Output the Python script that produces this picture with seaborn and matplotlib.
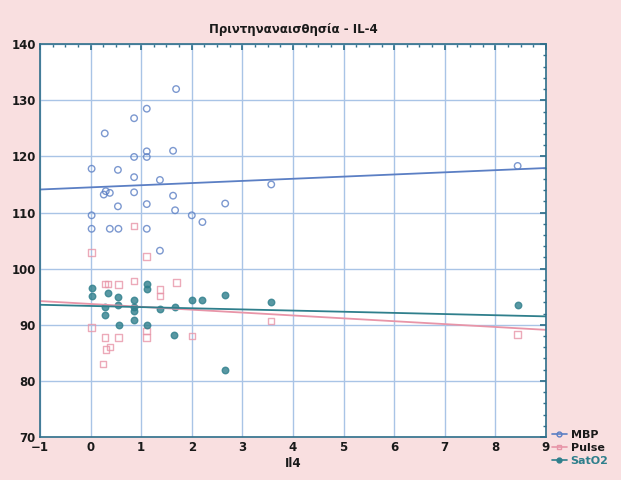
import numpy as np
import pandas as pd
import matplotlib
matplotlib.use("Agg")
import matplotlib.pyplot as plt
import seaborn as sns
from matplotlib.lines import Line2D
from matplotlib.ticker import MultipleLocator

sns.set_theme(style="white")
plt.rcParams['font.family'] = ['DejaVu Sans']

title = "Πριντηναναισθησία - IL-4"
x_label = "Il4"
series_names = ["MBP", "Pulse", "SatO2"]

mbp_x = [1.69, 1.11, 0.86, 0.28, 1.63, 1.11, 1.11, 0.86, 0.02, 0.54, 0.86, 1.37, 0.30, 0.38, 0.26,
         0.86, 1.63, 1.11, 0.54, 2.66, 2.00, 2.21, 1.67, 0.02, 0.02, 0.38, 0.55, 1.11, 1.37, 3.57, 8.44]
mbp_y = [132.0, 128.5, 126.8, 124.1, 121.0, 120.9, 119.9, 119.9, 117.8, 117.6, 116.3, 115.8, 113.8, 113.5, 113.2,
         113.6, 113.0, 111.5, 111.1, 111.6, 109.5, 108.3, 110.4, 109.5, 107.1, 107.1, 107.1, 107.1, 103.2, 115.0, 118.3]

pulse_x = [0.02, 1.11, 0.86, 0.86, 0.28, 0.34, 0.28, 0.30, 0.38, 0.25, 0.55, 1.11, 1.11, 1.37, 1.37,
           2.00, 3.57, 8.44, 0.02, 0.55, 1.70]
pulse_y = [102.9, 102.2, 107.6, 97.8, 97.3, 97.3, 87.7, 85.6, 86.0, 83.0, 87.7, 88.9, 87.7, 96.3, 95.1,
           88.0, 90.7, 88.3, 89.5, 97.2, 97.5]

sat_x = [0.02, 0.02, 0.34, 0.55, 0.28, 0.28, 0.55, 0.56, 0.86, 0.86, 0.86, 0.86, 1.11, 1.11, 1.37,
         1.67, 2.00, 2.21, 2.66, 3.57, 1.11, 1.65, 2.66, 8.44]
sat_y = [96.6, 95.2, 95.6, 95.0, 93.2, 91.8, 93.5, 90.0, 94.4, 93.2, 92.4, 90.8, 97.2, 96.3, 92.8,
         93.2, 94.4, 94.5, 95.3, 94.0, 90.0, 88.2, 82.0, 93.5]

x_ticks = list(range(-1, 10))
y_ticks = list(range(70, 141, 10))

colors = {"MBP": "#5b7fc4", "Pulse": "#e895a8", "SatO2": "#2f7f8c"}
markers = {"MBP": "o", "Pulse": "s", "SatO2": "o"}
filled = {"MBP": False, "Pulse": False, "SatO2": True}

df = pd.concat([
    pd.DataFrame({"x": mbp_x, "y": mbp_y, "s": "MBP"}),
    pd.DataFrame({"x": pulse_x, "y": pulse_y, "s": "Pulse"}),
    pd.DataFrame({"x": sat_x, "y": sat_y, "s": "SatO2"}),
])

fig = plt.figure(figsize=(6.21, 4.8), dpi=100, facecolor="#f9dfe0")
ax = fig.add_axes([0.0644, 0.0896, 0.8148, 0.8184])
ax.set_facecolor("white")
ax.set_xlim(-1, 9)
ax.set_ylim(70, 140)

for name in series_names:
    sub = df[df["s"] == name]
    c = colors[name]
    sns.regplot(data=sub, x="x", y="y", ax=ax, ci=None, truncate=False,
                marker=markers[name],
                scatter_kws=dict(s=22, facecolors=c if filled[name] else "none",
                                 edgecolors=c, linewidths=1.0, alpha=0.8),
                line_kws=dict(color=c, lw=1.3))

ax.set_xlim(-1, 9)
ax.set_ylim(70, 140)
ax.set_xticks(x_ticks)
ax.set_yticks(y_ticks)
ax.xaxis.set_minor_locator(MultipleLocator(0.25))
ax.yaxis.set_minor_locator(MultipleLocator(2))
ax.grid(True, which="major", color="#a9c4e6", lw=1.0)
ax.tick_params(which="both", direction="in", color="#2f6f8a", labelsize=8.5, pad=3,
               top=True, right=True)
ax.tick_params(which="major", length=4)
ax.tick_params(which="minor", length=2)
for lab in ax.get_xticklabels() + ax.get_yticklabels():
    lab.set_fontweight("bold")
    lab.set_color("#1a1a1a")
for sp in ax.spines.values():
    sp.set_color("#2f6f8a")
    sp.set_linewidth(1.2)

ax.set_xlabel(x_label, fontsize=8.5, fontweight="bold", labelpad=2, color="#1a1a1a")
ax.set_ylabel("")
ax.set_title(title, fontsize=8.5, fontweight="bold", pad=8, color="#1a1a1a")

handles = [Line2D([0], [0], color=colors[n], lw=1.2, marker=markers[n], markersize=3.5,
                  markerfacecolor=colors[n] if filled[n] else "none") for n in series_names]
leg = fig.legend(handles, series_names, loc="lower left", bbox_to_anchor=(0.875, 0.01),
                 frameon=False, handlelength=1.3, handletextpad=0.35, borderpad=0.3,
                 labelspacing=0.3, prop={"weight": "bold", "size": 8})
for t, n in zip(leg.get_texts(), series_names):
    t.set_color("#1a1a1a" if n != "SatO2" else colors[n])

fig.savefig("out.png", dpi=100, facecolor=fig.get_facecolor())
